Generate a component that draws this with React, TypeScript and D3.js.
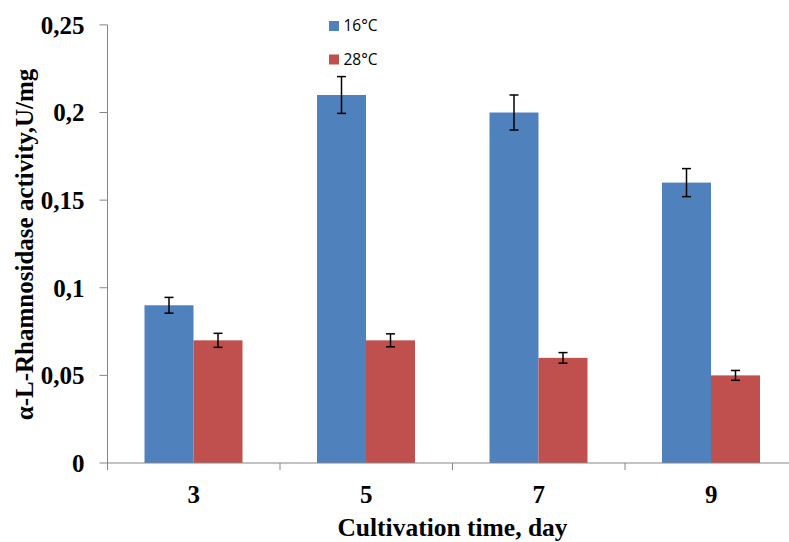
import React from "react";
import * as d3 from "d3";

const days = ["3", "5", "7", "9"];
const seriesNames = ["16°C", "28°C"];
const colors = ["#4F81BD", "#C0504D"];
const values16 = [0.09, 0.21, 0.2, 0.16];
const values28 = [0.07, 0.07, 0.06, 0.05];
const err16 = [0.0045, 0.0105, 0.01, 0.008];
const err28 = [0.004, 0.0037, 0.003, 0.0028];
const yTicks = [0, 0.05, 0.1, 0.15, 0.2, 0.25];

const width = 789;
const height = 542;
const left = 107.5;
const top = 24.9;
const bottom = 463;
const catWidth = 172.5;

const fmt = (v: number) => String(v).replace(".", ",");

export default function App() {
  const x = d3
    .scaleBand<string>()
    .domain(days)
    .range([left, left + catWidth * days.length]);
  const inner = d3
    .scaleBand<string>()
    .domain(seriesNames)
    .range([37, 135]);
  const y = d3.scaleLinear().domain([0, 0.25]).range([bottom, top]);

  const series = [
    { name: seriesNames[0], values: values16, errs: err16, color: colors[0] },
    { name: seriesNames[1], values: values28, errs: err28, color: colors[1] },
  ];

  return (
    <svg
      width={width}
      height={height}
      style={{ position: "absolute", left: 0, top: 0 }}
      fontFamily="'Liberation Serif', 'Times New Roman', serif"
    >
      <rect width={width} height={height} fill="#fff" />
      {series.map((s) =>
        days.map((d, i) => (
          <rect
            key={s.name + d}
            x={x(d)! + inner(s.name)!}
            y={y(s.values[i])}
            width={inner.bandwidth()}
            height={y(0) - y(s.values[i])}
            fill={s.color}
          />
        ))
      )}
      {series.map((s) =>
        days.map((d, i) => {
          const cx = x(d)! + inner(s.name)! + inner.bandwidth() / 2;
          const y1 = y(s.values[i] + s.errs[i]);
          const y2 = y(s.values[i] - s.errs[i]);
          return (
            <g key={"e" + s.name + d} stroke="#000" strokeWidth={1.5}>
              <line x1={cx} x2={cx} y1={y1} y2={y2} />
              <line x1={cx - 4.5} x2={cx + 4.5} y1={y1} y2={y1} />
              <line x1={cx - 4.5} x2={cx + 4.5} y1={y2} y2={y2} />
            </g>
          );
        })
      )}
      {/* y axis */}
      <line x1={left} x2={left} y1={top} y2={bottom} stroke="#868686" />
      {yTicks.map((t) => (
        <g key={t}>
          <line x1={left - 8} x2={left} y1={y(t)} y2={y(t)} stroke="#868686" />
          <text
            x={84.5}
            y={y(t)}
            dy="0.35em"
            textAnchor="end"
            fontWeight="bold"
            fontSize={25}
          >
            {fmt(t)}
          </text>
        </g>
      ))}
      {/* x axis */}
      <line x1={left} x2={x.range()[1]} y1={bottom} y2={bottom} stroke="#868686" />
      {days.map((d) => (
        <line
          key={"t" + d}
          x1={x(d)!}
          x2={x(d)!}
          y1={bottom}
          y2={bottom + 7}
          stroke="#868686"
        />
      ))}
      {days.map((d) => (
        <text
          key={"l" + d}
          x={x(d)! + x.bandwidth() / 2}
          y={503}
          textAnchor="middle"
          fontWeight="bold"
          fontSize={25}
        >
          {d}
        </text>
      ))}
      <text x={452.5} y={536} textAnchor="middle" fontWeight="bold" fontSize={25.5}>
        Cultivation time, day
      </text>
      <text
        transform={`translate(33,244.5) rotate(-90)`}
        textAnchor="middle"
        fontWeight="bold"
        fontSize={25}
      >
        α-L-Rhamnosidase activity,U/mg
      </text>
      {/* legend */}
      {series.map((s, i) => (
        <g key={"lg" + s.name} transform={`translate(329,${21 + i * 33.5})`}>
          <rect width={10} height={10} fill={s.color} />
          <text
            x={14.5}
            y={5}
            dy="0.35em"
            fontFamily="'Open Sans', sans-serif"
            fontSize={15.5}
          >
            {s.name}
          </text>
        </g>
      ))}
    </svg>
  );
}
